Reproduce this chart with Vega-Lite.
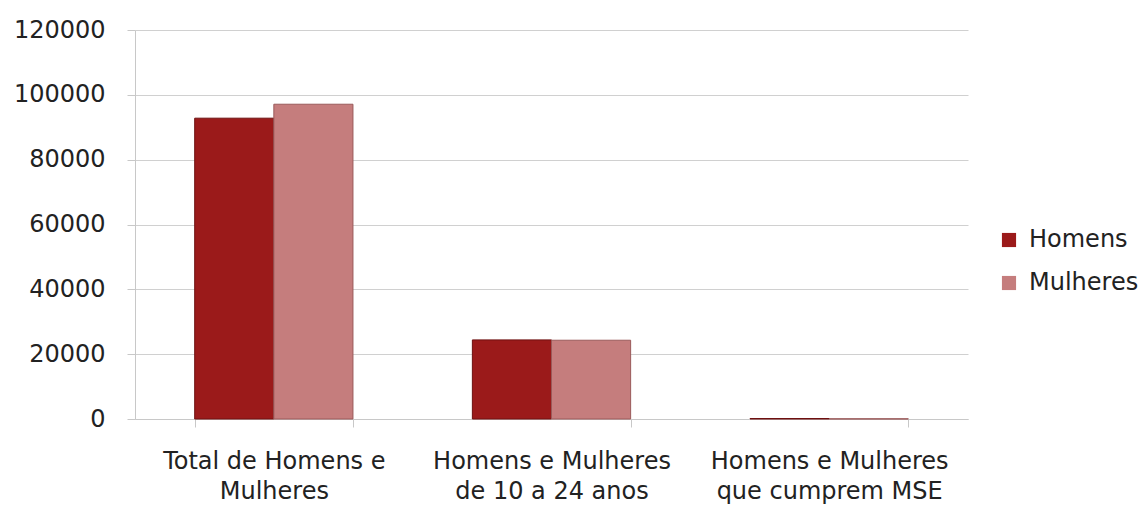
{
  "$schema": "https://vega.github.io/schema/vega-lite/v6.json",
  "autosize": {"type": "none"},
  "width": 833,
  "height": 389,
  "padding": {"left": 135, "top": 30, "right": 180, "bottom": 86},
  "background": "white",
  "config": {"view": {"stroke": null}, "font": "DejaVu Sans"},
  "data": {"values": [
    {"categoria": "Total de Homens e Mulheres", "sexo": "Homens", "valor": 92800},
    {"categoria": "Total de Homens e Mulheres", "sexo": "Mulheres", "valor": 97100},
    {"categoria": "Homens e Mulheres de 10 a 24 anos", "sexo": "Homens", "valor": 24400},
    {"categoria": "Homens e Mulheres de 10 a 24 anos", "sexo": "Mulheres", "valor": 24300},
    {"categoria": "Homens e Mulheres que cumprem MSE", "sexo": "Homens", "valor": 150},
    {"categoria": "Homens e Mulheres que cumprem MSE", "sexo": "Mulheres", "valor": 60}
  ]},
  "mark": {"type": "bar", "strokeWidth": 1},
  "encoding": {
    "x": {
      "field": "categoria", "type": "nominal", "sort": null, "title": null,
      "scale": {"paddingInner": 0.43, "paddingOuter": 0.215},
      "axis": {
        "labelAngle": 0, "labelFontSize": 24, "labelColor": "#222", "labelPadding": 34,
        "labelLineHeight": 30, "labelBaseline": "middle", "labelLimit": 400,
        "labelExpr": "datum.value == 'Total de Homens e Mulheres' ? ['Total de Homens e', 'Mulheres'] : datum.value == 'Homens e Mulheres de 10 a 24 anos' ? ['Homens e Mulheres', 'de 10 a 24 anos'] : datum.value == 'Homens e Mulheres que cumprem MSE' ? ['Homens e Mulheres', 'que cumprem MSE'] : ''",
        "tickBand": "extent", "tickSize": 8, "tickColor": "#c8c8c8", "domainColor": "#c8c8c8", "grid": false
      }
    },
    "xOffset": {"field": "sexo", "type": "nominal", "scale": {"paddingInner": 0, "paddingOuter": 0}},
    "y": {
      "field": "valor", "type": "quantitative", "title": null,
      "scale": {"domain": [0, 120000]},
      "axis": {
        "values": [0, 20000, 40000, 60000, 80000, 100000, 120000],
        "format": "d", "labelFontSize": 24, "labelColor": "#222", "labelPadding": 22,
        "tickSize": 8, "tickColor": "#c8c8c8", "domainColor": "#c8c8c8",
        "gridColor": "#d0d0d0"
      }
    },
    "color": {
      "field": "sexo", "type": "nominal", "title": null,
      "scale": {"domain": ["Homens", "Mulheres"], "range": ["#9b1a1a", "#c57d7d"]},
      "legend": {
        "orient": "none", "legendX": 862, "legendY": 198,
        "symbolType": "square", "symbolSize": 200, "symbolStrokeWidth": 0,
        "labelFontSize": 24, "labelColor": "#222", "rowPadding": 19, "labelOffset": 8
      }
    },
    "stroke": {
      "field": "sexo", "type": "nominal",
      "scale": {"domain": ["Homens", "Mulheres"], "range": ["#6e1010", "#9a5a5a"]},
      "legend": null
    }
  }
}
